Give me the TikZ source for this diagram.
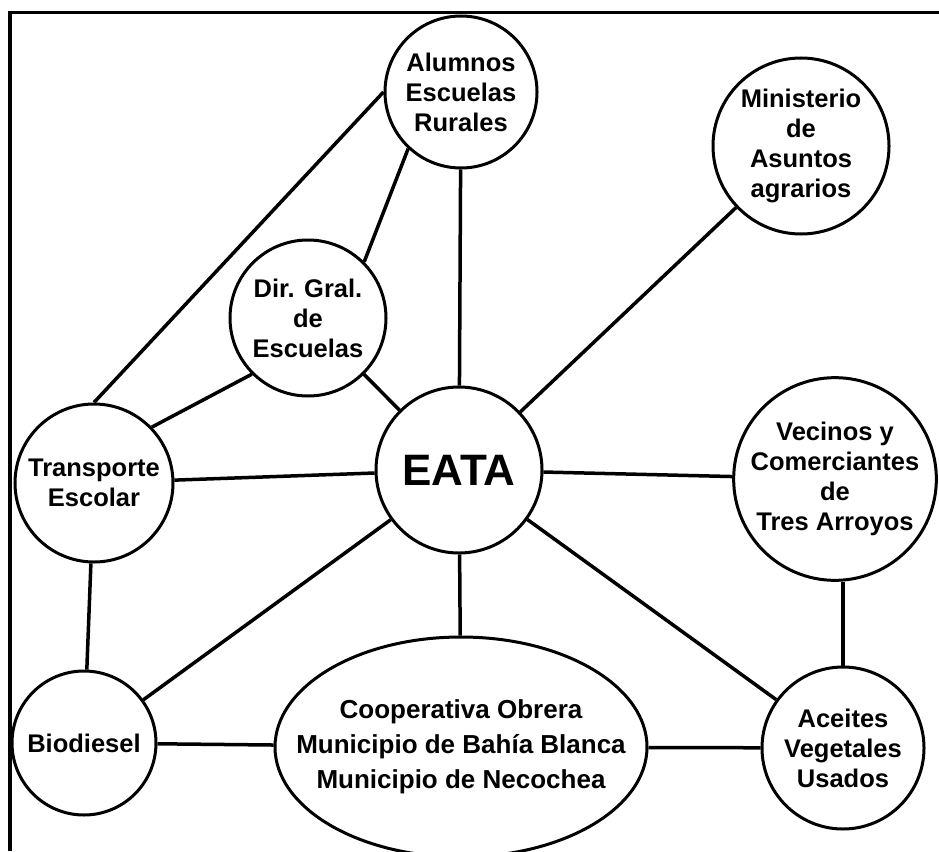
\documentclass[tikz,border=0pt]{standalone}
\usepackage{fontspec}
\setmainfont{Liberation Sans}
\usetikzlibrary{shapes.geometric}
\tikzset{
  actor/.style={circle, draw, line width=3pt, inner sep=0pt, align=center,
    font=\bfseries\fontsize{25.5}{30}\selectfont},
  link/.style={line width=3.5pt},
  frameline/.style={line width=3.5pt}
}
\begin{document}
\begin{tikzpicture}[x=1pt,y=-1pt]
\useasboundingbox (0,0) rectangle (939,851);
\draw[frameline] (939,12.5) -- (10,12.5) -- (10,851);

\node[actor, minimum size=152pt] (alu) at (461,92) {Alumnos\\Escuelas\\Rurales};
\node[actor, minimum size=176pt] (min) at (801,146) {Ministerio\\de\\Asuntos\\agrarios};
\node[actor, minimum size=156pt] (dir) at (308,318) {Dir. Gral.\\de\\Escuelas};
\node[actor, minimum size=166pt, font=\bfseries\fontsize{44}{50}\selectfont] (eata) at (459,470) {EATA};
\node[actor, minimum size=158pt] (tra) at (94,483) {Transporte\\Escolar};
\node[actor, minimum size=198pt] (vec) at (835,479) {Vecinos y\\Comerciantes\\de\\Tres Arroyos};
\node[actor, minimum size=144pt] (bio) at (84,743) {Biodiesel};
\node[actor, minimum size=162pt] (ace) at (843,748) {Aceites\\Vegetales\\Usados};
\node[ellipse, draw, line width=3pt, inner sep=0pt, minimum width=372pt, minimum height=220pt] (coop) at (461,747) {};
\node[align=center, inner sep=0pt, font=\bfseries\fontsize{26}{35}\selectfont] (cooptext) at (coop.center)
  {Cooperativa Obrera\\Municipio de Bahía Blanca\\Municipio de Necochea};

\draw[link] (alu) -- (eata);
\draw[link] (alu.227) -- (dir.45);
\draw[link] (alu.west) -- (tra.north);
\draw[link] (min) -- (eata);
\draw[link] (dir) -- (eata);
\draw[link] (dir.225) -- (tra.44);
\draw[link] (tra) -- (eata);
\draw[link] (eata) -- (vec);
\draw[link] (tra) -- (bio);
\draw[link] (eata) -- (bio);
\draw[link] (eata) -- (coop);
\draw[link] (eata) -- (ace);
\draw[link] (ace) -- (ace |- vec.south);
\draw[link] (bio) -- (coop);
\draw[link] (coop) -- (ace);
\end{tikzpicture}
\end{document}
